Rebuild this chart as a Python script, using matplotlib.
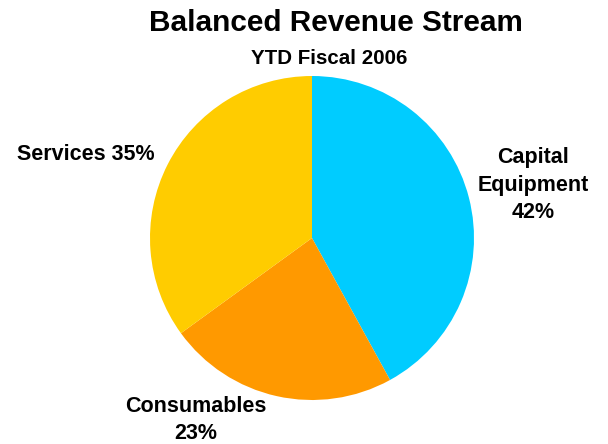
import matplotlib
matplotlib.use("Agg")
import matplotlib.pyplot as plt

plt.rcParams['font.family'] = ['Liberation Sans', 'DejaVu Sans']

categories = ["Capital\nEquipment", "Consumables", "Services"]
shares = [42, 23, 35]
colors = ["#00CCFF", "#FF9900", "#FFCC00"]

W, H = 608, 444
fig = plt.figure(figsize=(W / 100, H / 100), dpi=100)
ax = fig.add_axes([0, 0, 1, 1])

ax.pie(shares, colors=colors, startangle=90, counterclock=False,
       center=(312, H - 238), radius=162, frame=True,
       wedgeprops=dict(linewidth=0))
ax.set_xlim(0, W)
ax.set_ylim(0, H)
ax.set_aspect("equal")
ax.axis("off")

label_pos = [(533, H - 185), (196, H - 420), (86, H - 154)]
label_text = [
    f"{categories[0]}\n{shares[0]}%",
    f"{categories[1]}\n{shares[1]}%",
    f"{categories[2]} {shares[2]}%",
]
for (x, y), t in zip(label_pos, label_text):
    ax.text(x, y, t, ha="center", va="center", fontsize=15.5,
            fontweight="bold", linespacing=1.42)

fig.text(336 / W, 1 - 23 / H, "Balanced Revenue Stream", ha="center",
         va="center", fontsize=21.4, fontweight="bold")
fig.text(329 / W, 1 - 58 / H, "YTD Fiscal 2006", ha="center", va="center",
         fontsize=14.8, fontweight="bold")

fig.savefig("out.png", dpi=100, facecolor="white")
